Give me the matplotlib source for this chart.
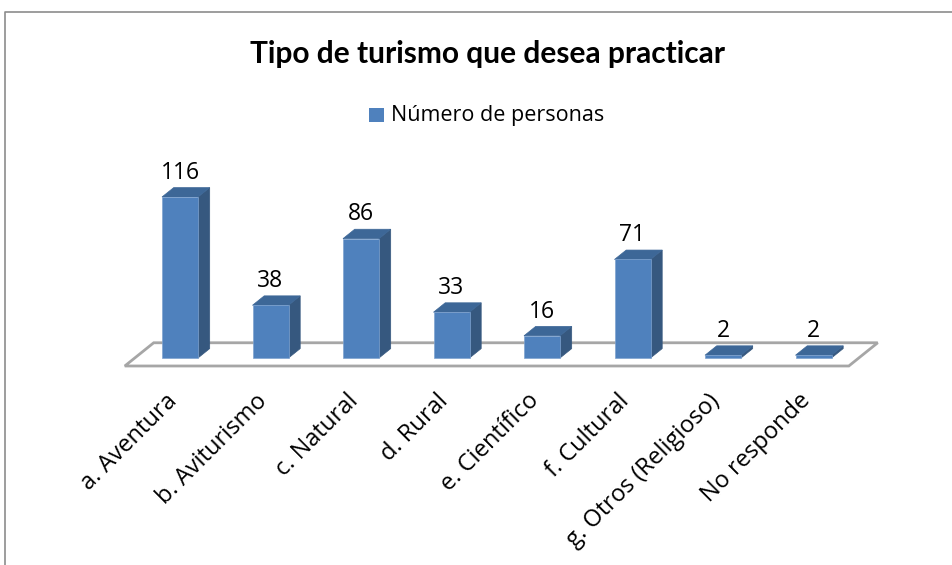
import matplotlib
matplotlib.use("Agg")
import matplotlib.pyplot as plt
from matplotlib.patches import Polygon, Rectangle
import numpy as np

categories = ["a. Aventura", "b. Aviturismo", "c. Natural", "d. Rural",
              "e. Científico", "f. Cultural", "g. Otros (Religioso)", "No responde"]
values = [116, 38, 86, 33, 16, 71, 2, 2]
series_name = "Número de personas"
title = "Tipo de turismo que desea practicar"

FRONT = "#4F81BD"
SIDE = "#36587F"
TOP = "#3D6797"
FONT = ["Open Sans", "DejaVu Sans"]
TFONT = ["Lato", "DejaVu Sans"]

W, H = 952, 565
fig = plt.figure(figsize=(W / 100, H / 100), dpi=100)
ax = fig.add_axes([0, 0, 1, 1])

# pixel mapping (category spacing and value scale)
px_per_cat = 90.5
px_per_val = 1.388
x0_px, base_px = 180.0, 358.0
ax.set_xlim(-x0_px / px_per_cat, (W - x0_px) / px_per_cat)
ax.set_ylim((base_px - H) / px_per_val, base_px / px_per_val)
ax.axis("off")

# oblique depth vector (per unit of bar depth)
ddx = 11.7 / px_per_cat
ddy = 9.4 / px_per_val
bw = 36 / px_per_cat

n = len(categories)
x = np.arange(n)

# floor
d_front, d_back = -0.85, 1.62
left, right = -0.5, n - 0.5
floor = Polygon([(left + d_front * ddx, d_front * ddy),
                 (right + d_front * ddx, d_front * ddy),
                 (right + d_back * ddx, d_back * ddy),
                 (left + d_back * ddx, d_back * ddy)],
                closed=True, facecolor="white", edgecolor="#A6A6A6", lw=2, zorder=1)
ax.add_patch(floor)

for xi, v in zip(x, values):
    l, r = xi - bw / 2, xi + bw / 2
    side = Polygon([(r, 0), (r + ddx, ddy), (r + ddx, v + ddy), (r, v)],
                   closed=True, facecolor=SIDE, edgecolor=SIDE, lw=0.5, zorder=2)
    top = Polygon([(l, v), (r, v), (r + ddx, v + ddy), (l + ddx, v + ddy)],
                  closed=True, facecolor=TOP, edgecolor=TOP, lw=0.5, zorder=2)
    ax.add_patch(side)
    ax.add_patch(top)
ax.bar(x, values, width=bw, color=FRONT, edgecolor="#7FA3D0", lw=0.5, zorder=3)

for xi, v in zip(x, values):
    ax.text(xi, v + ddy + 2, str(v), ha="center", va="bottom", fontsize=16.5,
            family=FONT, zorder=4)

label_y = (base_px - 389) / px_per_val
label_dx = -15 / px_per_cat
for xi, c in zip(x, categories):
    ax.text(xi + label_dx, label_y, c, rotation=45, ha="right", va="top",
            rotation_mode="anchor", fontsize=17, family=FONT)

fig.text(488 / W, 1 - 54 / H, title, ha="center", va="center", fontsize=21.5,
         fontweight="bold", family=TFONT)

# legend
fig.add_artist(Rectangle((369 / W, 1 - 122 / H), 15 / W, 14 / H,
                         transform=fig.transFigure, facecolor=FRONT, edgecolor="none"))
fig.text(391 / W, 1 - 115 / H, series_name, ha="left", va="center",
         fontsize=15.5, family=FONT)

# chart frame (partially visible)
fig.add_artist(plt.Line2D([5 / W, 5 / W, 1], [0, 1 - 12 / H, 1 - 12 / H],
                          transform=fig.transFigure, color="#8C8C8C", lw=1.2))

fig.savefig("out.png", dpi=100)
